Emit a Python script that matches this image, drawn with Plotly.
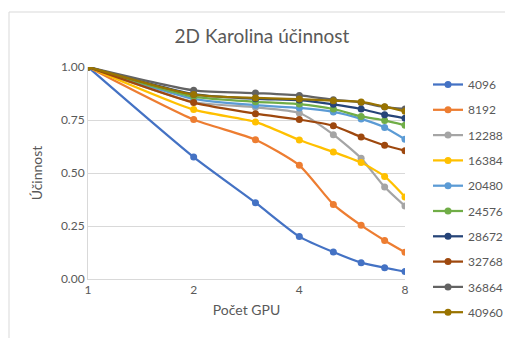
import plotly.graph_objects as go

gpus = [1, 2, 3, 4, 5, 6, 7, 8]
series_names = ["4096", "8192", "12288", "16384", "20480", "24576", "28672", "32768", "36864", "40960"]
s4096 = [1.0, 0.575, 0.360, 0.200, 0.127, 0.077, 0.053, 0.035]
s8192 = [1.0, 0.752, 0.657, 0.536, 0.352, 0.253, 0.182, 0.126]
s12288 = [1.0, 0.835, 0.810, 0.783, 0.681, 0.569, 0.434, 0.344]
s16384 = [1.0, 0.799, 0.741, 0.656, 0.599, 0.549, 0.484, 0.387]
s20480 = [1.0, 0.850, 0.820, 0.807, 0.788, 0.755, 0.715, 0.659]
s24576 = [1.0, 0.860, 0.836, 0.825, 0.802, 0.767, 0.748, 0.725]
s28672 = [1.0, 0.872, 0.850, 0.844, 0.824, 0.802, 0.775, 0.758]
s32768 = [1.0, 0.832, 0.780, 0.752, 0.723, 0.670, 0.631, 0.605]
s36864 = [1.0, 0.890, 0.877, 0.866, 0.846, 0.833, 0.811, 0.802]
s40960 = [1.0, 0.870, 0.854, 0.849, 0.841, 0.835, 0.813, 0.791]
all_series = [s4096, s8192, s12288, s16384, s20480, s24576, s28672, s32768, s36864, s40960]
colors = ["#4472C4", "#ED7D31", "#A5A5A5", "#FFC000", "#5B9BD5",
          "#70AD47", "#264478", "#9E480E", "#636363", "#997300"]
x_ticks = [1, 2, 4, 8]
y_ticks = [0, 0.25, 0.5, 0.75, 1.0]

FONT = "Lato"
TXT = "#595959"
W, H = 505, 338
L, R, T, B = 88, 100, 67, 59
pw, ph = W - L - R, H - T - B

fig = go.Figure()
for name, vals, col in zip(series_names, all_series, colors):
    fig.add_trace(go.Scatter(
        x=gpus, y=vals, name=name, mode="lines+markers",
        line=dict(color=col, width=2.25, shape="spline", smoothing=0.6),
        marker=dict(color=col, size=7),
        legendgroup=name,
    ))

fig.update_layout(
    width=W, height=H,
    margin=dict(l=L, r=R, t=T, b=B, autoexpand=False),
    paper_bgcolor="white", plot_bgcolor="white",
    font=dict(family=FONT, color=TXT, size=12),
    title=dict(text="2D Karolina účinnost", x=262 / W, xref="container", xanchor="center",
               y=1 - 36 / H, yref="container", yanchor="middle",
               font=dict(size=19, color=TXT, family=FONT)),
    showlegend=True,
    legend=dict(x=(428 - L) / pw, xanchor="left", y=(H - B - 70) / ph, yanchor="top",
                font=dict(size=12, color=TXT, family=FONT), tracegroupgap=6.3,
                itemwidth=30, maxheight=330,
                bgcolor="rgba(0,0,0,0)"),
    xaxis=dict(type="log", range=[0, 0.90309], tickvals=x_ticks, ticktext=[str(v) for v in x_ticks],
               showgrid=False, showline=True, linecolor="#d9d9d9", linewidth=1,
               zeroline=False, ticks="", tickfont=dict(size=12, color=TXT),
               title=dict(text="Počet GPU", font=dict(size=14, color=TXT), standoff=8)),
    yaxis=dict(range=[0, 1.0], tickvals=y_ticks, tickformat=".2f",
               showgrid=True, gridcolor="#d9d9d9", gridwidth=1,
               showline=True, linecolor="#d9d9d9", linewidth=1,
               zeroline=False, ticks="", tickfont=dict(size=12, color=TXT),
               title=dict(text="Účinnost", font=dict(size=14, color=TXT), standoff=14)),
    shapes=[dict(type="rect", xref="paper", yref="paper",
                 x0=(9 - L) / pw, x1=(W + 20 - L) / pw,
                 y0=(H - B - (H + 20)) / ph, y1=(H - B - 12) / ph,
                 line=dict(color="#d9d9d9", width=1), fillcolor="rgba(0,0,0,0)", layer="below")],
)

fig.write_html("out.html")
